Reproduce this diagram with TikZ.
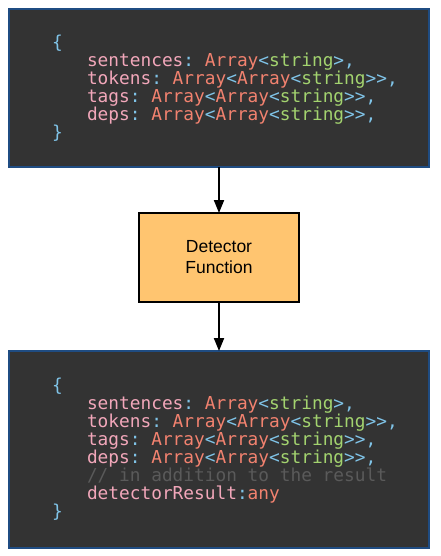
\documentclass[tikz,border=0pt]{standalone}
\usepackage{fontspec}
\setmainfont{Liberation Sans}
\newfontfamily\codefont{DejaVu Sans Mono}
\usetikzlibrary{arrows.meta,positioning}

\definecolor{codebg}{HTML}{333333}
\definecolor{boxblue}{HTML}{1F4C82}
\definecolor{fnorange}{HTML}{FFC570}
\definecolor{keypink}{HTML}{F2A7BA}
\definecolor{typesalmon}{HTML}{F2826F}
\definecolor{strgreen}{HTML}{A3D36F}
\definecolor{punctblue}{HTML}{80C4E8}
\definecolor{commentgray}{HTML}{5A5A5A}

\newcommand{\ckey}[1]{\textcolor{keypink}{#1}}
\newcommand{\ctype}[1]{\textcolor{typesalmon}{#1}}
\newcommand{\cstr}[1]{\textcolor{strgreen}{#1}}
\newcommand{\cpun}[1]{\textcolor{punctblue}{#1}}
\newcommand{\ccom}[1]{\textcolor{commentgray}{#1}}
% one indented code line, kept from wrapping
\newcommand{\cln}[1]{\mbox{\hspace*{35pt}#1}}
% monospaced font with spaces as wide as a letter
\newcommand{\codesize}{\codefont\fontsize{17.8}{18}\selectfont\frenchspacing\spaceskip=\fontcharwd\font`\x\relax}

\begin{document}
\begin{tikzpicture}[
        >={Triangle[length=13pt,width=10pt]},
        codebox/.style={
            draw=boxblue,
            line width=2pt,
            fill=codebg,
            outer sep=0pt,
            text width=334pt,
            inner xsep=43pt,
            align=flush left,
            font=\codesize
        },
        fnbox/.style={
            draw=black,
            line width=2pt,
            fill=fnorange,
            outer sep=0pt,
            minimum width=160pt,
            minimum height=89pt,
            align=center,
            font=\fontsize{17.5}{21}\selectfont
        },
        arrow/.style={->, line width=2pt, draw=black}
    ]
        \useasboundingbox (0,0) rectangle (441pt,-556pt);

        \node[codebox, minimum height=158pt] (input) at (219pt,-88pt) {%
            \cpun{\{}\\
            \cln{\ckey{sentences}\cpun{:} \ctype{Array}\cpun{<}\cstr{string}\cpun{>,}}\\
            \cln{\ckey{tokens}\cpun{:} \ctype{Array}\cpun{<}\ctype{Array}\cpun{<}\cstr{string}\cpun{>>,}}\\
            \cln{\ckey{tags}\cpun{:} \ctype{Array}\cpun{<}\ctype{Array}\cpun{<}\cstr{string}\cpun{>>,}}\\
            \cln{\ckey{deps}\cpun{:} \ctype{Array}\cpun{<}\ctype{Array}\cpun{<}\cstr{string}\cpun{>>,}}\\
            \cpun{\}}};
        \node[fnbox, below=46pt of input] (detector) {Detector\\Function};
        \node[codebox, minimum height=197pt, below=49pt of detector] (output) {%
            \cpun{\{}\\
            \cln{\ckey{sentences}\cpun{:} \ctype{Array}\cpun{<}\cstr{string}\cpun{>,}}\\
            \cln{\ckey{tokens}\cpun{:} \ctype{Array}\cpun{<}\ctype{Array}\cpun{<}\cstr{string}\cpun{>>,}}\\
            \cln{\ckey{tags}\cpun{:} \ctype{Array}\cpun{<}\ctype{Array}\cpun{<}\cstr{string}\cpun{>>,}}\\
            \cln{\ckey{deps}\cpun{:} \ctype{Array}\cpun{<}\ctype{Array}\cpun{<}\cstr{string}\cpun{>>,}}\\
            \cln{\ccom{// in addition to the result}}\\
            \cln{\ckey{detectorResult}\cpun{:}\ctype{any}}\\
            \cpun{\}}};

        \draw[arrow] (input) -- (detector);
        \draw[arrow] (detector) -- (output);
    \end{tikzpicture}
\end{document}
